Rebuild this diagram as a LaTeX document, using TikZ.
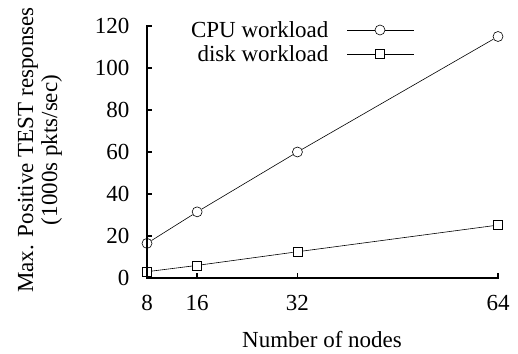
\documentclass[tikz,border=0pt]{standalone}
\usepackage{fontspec}
\setmainfont{Liberation Serif}
\usepackage{tikz}

\begin{document}
\begin{tikzpicture}[x=6.268pt, y=2.1pt,
				font		= \fontsize{23}{24}\selectfont,
				axis/.style	= {line width=1.5pt, line cap=rect},
				tick/.style	= {line width=1.5pt},
				curve/.style	= {line width=0.6pt, black},
				cpu/.style	= {circle, draw, line width=0.6pt, inner sep=0pt, minimum size=10pt},
				disk/.style	= {rectangle, draw, line width=0.6pt, inner sep=0pt, minimum size=9pt}]
				%\draw[help lines] (0,0) grid (56,120);
				\useasboundingbox (-147pt,-75pt) rectangle (371pt,278pt);
				
				% axes
				\coordinate (O) at (0,0);
				\coordinate (ytop) at (0,120);
				\coordinate (xend) at (56,0);
				\draw[axis] (ytop) -- (O) -- (xend);
				
				\foreach \v in {0,20,...,120}{
					\draw[tick] (0,\v) -- ++(5pt,0);
					\node[anchor=east] (y\v) at (-14pt,\v) {\v};
				}
				\foreach \n in {8,16,32,64}{
					\draw[tick] (\n-8,0) -- ++(0,5pt);
					\node (x\n) at (\n-8,-25pt) {\n};
				}
				
				\node (xlabel) at (175pt,-62pt) {Number of nodes};
				\node[rotate=90, align=center] (ylabel) at (-107pt,128pt)
					{Max. Positive TEST responses\\(1000s pkts/sec)};
				
				% CPU workload
				\node[cpu] (c8)  at (0,16.5) {};
				\node[cpu] (c16) at (8,31.5) {};
				\node[cpu] (c32) at (24,60) {};
				\node[cpu] (c64) at (56,115) {};
				\draw[curve] (c8) -- (c16) -- (c32) -- (c64);
				
				% disk workload
				\node[disk] (d8)  at (0,3) {};
				\node[disk] (d16) at (8,6) {};
				\node[disk] (d32) at (24,12.5) {};
				\node[disk] (d64) at (56,25.2) {};
				\draw[curve] (d8) -- (d16) -- (d32) -- (d64);
				
				% key
				\node[anchor=east] (kcpu) at (185pt,248pt) {CPU workload};
				\node[anchor=east] (kdisk) at (185pt,224pt) {disk workload};
				\node[cpu] (mcpu) at (233pt,248pt) {};
				\node[disk] (mdisk) at (233pt,224pt) {};
				\coordinate (lcpu) at (200pt,248pt);
				\coordinate (rcpu) at (267pt,248pt);
				\coordinate (ldisk) at (200pt,224pt);
				\coordinate (rdisk) at (267pt,224pt);
				\draw[curve] (lcpu) -- (mcpu) -- (rcpu);
				\draw[curve] (ldisk) -- (mdisk) -- (rdisk);
\end{tikzpicture}
\end{document}
